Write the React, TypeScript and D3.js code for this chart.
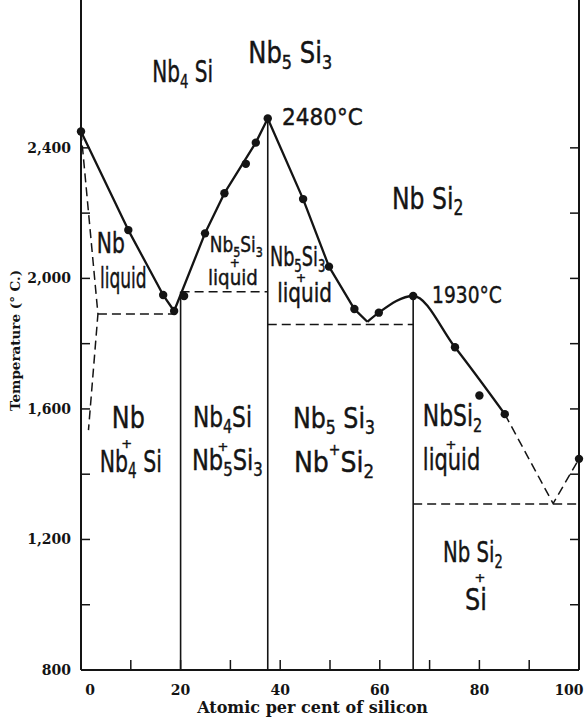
import React from "react";
import * as d3 from "d3";

const W = 586;
const H = 717;

// readings in (atomic % Si, °C)
const measured: [number, number][] = [
  [0, 2450], [9.5, 2148], [16.5, 1949], [18.7, 1900], [20.7, 1946],
  [24.9, 2138], [28.8, 2261], [33.1, 2351], [35.1, 2416], [37.5, 2490],
  [44.6, 2243], [49.8, 2036], [54.9, 1906], [59.8, 1895], [66.7, 1946],
  [75.1, 1789], [80.0, 1641], [85.1, 1584], [100, 1447],
];

const nbLiquidus: [number, number][] = [[0, 2450], [9.5, 2148], [16.5, 1949], [18.7, 1900]];
const nb5si3Left: [number, number][] = [[18.7, 1900], [24.9, 2138], [28.8, 2261], [35.1, 2416], [37.5, 2490]];
const nb5si3Right: [number, number][] = [[37.5, 2490], [44.6, 2243], [49.8, 2036], [54.9, 1906], [57.5, 1867]];
const nbsi2Liquidus: [number, number][] = [[57.5, 1867], [59.8, 1895], [66.7, 1946], [75.1, 1789], [85.1, 1584]];
const siLiquidus: [number, number][] = [[85.1, 1584], [94.8, 1310], [100, 1447]];
const nbSolidus: [number, number][] = [[0, 2450], [3.4, 1891], [1.5, 1535]];

// horizontal invariant lines: temperature, from %, to %
const invariants: [number, number, number][] = [
  [1891, 3.4, 18.7],
  [1959, 20, 37.5],
  [1859, 37.5, 66.7],
  [1309, 66.7, 100],
];

// compounds: composition, top temperature
const compounds: [number, number][] = [[20, 1959], [37.5, 2490], [66.7, 1946]];

const yLabels = [800, 1200, 1600, 2000, 2400];
const yTicks = [1000, 1200, 1400, 1600, 1800, 2000, 2200, 2400];
const xLabels = [0, 20, 40, 60, 80, 100];
const xTicks = [10, 20, 30, 40, 50, 60, 70, 80, 90];

const x = d3.scaleLinear().domain([0, 100]).range([81, 579]);
const y = d3.scaleLinear().domain([800, 2850]).range([670, 1]);

const line = d3.line<[number, number]>().x((d) => x(d[0])).y((d) => y(d[1]));
const smooth = d3
  .line<[number, number]>()
  .x((d) => x(d[0]))
  .y((d) => y(d[1]))
  .curve(d3.curveMonotoneX);

// region labels: segments ("_" sub, "^" sup), %, °C, font size, x squeeze
type Note = { segs: string[]; p: number; t: number; fs: number; sx: number };
const notes: Note[] = [
  { segs: ["Nb", "_4", " Si"], p: 20.4, t: 2602, fs: 30, sx: 0.67 },
  { segs: ["Nb", "_5", " Si", "_3"], p: 42.0, t: 2660, fs: 30, sx: 0.81 },
  { segs: ["2480°C"], p: 48.5, t: 2470, fs: 23.5, sx: 0.92 },
  { segs: ["Nb Si", "_2"], p: 69.6, t: 2213, fs: 31, sx: 0.76 },
  { segs: ["1930°C"], p: 77.5, t: 1925, fs: 23, sx: 0.81 },
  { segs: ["Nb"], p: 6.0, t: 2078, fs: 29, sx: 0.7 },
  { segs: ["liquid"], p: 8.5, t: 1971, fs: 28, sx: 0.61 },
  { segs: ["Nb", "_5", "Si", "_3"], p: 31.2, t: 2080, fs: 22, sx: 0.77 },
  { segs: ["+"], p: 30.9, t: 2036, fs: 12, sx: 1 },
  { segs: ["liquid"], p: 30.5, t: 1980, fs: 22, sx: 0.83 },
  { segs: ["Nb", "_5", "Si", "_3"], p: 43.5, t: 2037, fs: 26, sx: 0.68 },
  { segs: ["+"], p: 44.2, t: 1990, fs: 12, sx: 1 },
  { segs: ["liquid"], p: 44.9, t: 1928, fs: 26, sx: 0.77 },
  { segs: ["Nb"], p: 9.5, t: 1542, fs: 31, sx: 0.77 },
  { segs: ["+"], p: 9.2, t: 1481, fs: 13, sx: 1 },
  { segs: ["Nb", "_4", " Si"], p: 10.0, t: 1407, fs: 31, sx: 0.66 },
  { segs: ["Nb", "_4", "Si"], p: 28.4, t: 1545, fs: 29, sx: 0.75 },
  { segs: ["+"], p: 28.5, t: 1472, fs: 13, sx: 1 },
  { segs: ["Nb", "_5", "Si", "_3"], p: 29.4, t: 1413, fs: 29, sx: 0.78 },
  { segs: ["Nb", "_5", " Si", "_3"], p: 50.8, t: 1542, fs: 29, sx: 0.82 },
  { segs: ["Nb", "^+", "Si", "_2"], p: 50.8, t: 1407, fs: 29, sx: 0.87 },
  { segs: ["NbSi", "_2"], p: 74.6, t: 1547, fs: 30, sx: 0.73 },
  { segs: ["+"], p: 74.3, t: 1478, fs: 13, sx: 1 },
  { segs: ["liquid"], p: 74.4, t: 1413, fs: 30, sx: 0.7 },
  { segs: ["Nb Si", "_2"], p: 78.7, t: 1130, fs: 29, sx: 0.68 },
  { segs: ["+"], p: 80.1, t: 1071, fs: 13, sx: 1 },
  { segs: ["Si"], p: 79.3, t: 984, fs: 30, sx: 0.8 },
];

const ink = "#141414";
const dash = "9 5";

function Label({ n }: { n: Note }) {
  let cur = 0;
  const spans = n.segs.map((s, i) => {
    let target = 0;
    let size = n.fs;
    let txt = s;
    if (s.startsWith("_")) {
      target = n.fs * 0.2;
      size = n.fs * 0.66;
      txt = s.slice(1);
    } else if (s.startsWith("^")) {
      target = -n.fs * 0.6;
      size = n.fs * 0.55;
      txt = s.slice(1);
    }
    const dy = target - cur;
    cur = target;
    return (
      <tspan key={i} dy={dy} fontSize={size}>
        {txt}
      </tspan>
    );
  });
  return (
    <g transform={`translate(${x(n.p)},${y(n.t)}) scale(${n.sx},1)`}>
      <text
        textAnchor="middle"
        fontSize={n.fs}
        fill={ink}
        stroke={ink}
        strokeWidth={0.45}
      >
        {spans}
      </text>
    </g>
  );
}

export default function App() {
  const serif = "'DejaVu Serif', serif";
  return (
    <svg
      width={W}
      height={H}
      viewBox={`0 0 ${W} ${H}`}
      style={{ position: "absolute", left: 0, top: 0, background: "#fff" }}
      fontFamily="'DejaVu Sans', sans-serif"
    >
      <rect width={W} height={H} fill="#fff" />

      {/* frame */}
      <g stroke={ink} strokeWidth={2} fill="none">
        <line x1={x(0)} x2={x(0)} y1={0} y2={y(800)} />
        <line x1={x(100)} x2={x(100)} y1={0} y2={y(800)} />
        <line x1={x(0)} x2={x(100)} y1={y(800)} y2={y(800)} />
      </g>

      {/* ticks */}
      <g stroke={ink} strokeWidth={1.5}>
        {yTicks.map((t) => (
          <g key={t}>
            <line x1={x(0)} x2={x(0) + 9} y1={y(t)} y2={y(t)} />
            <line x1={x(100) - 9} x2={x(100)} y1={y(t)} y2={y(t)} />
          </g>
        ))}
        {xTicks.map((p) => (
          <line key={p} x1={x(p)} x2={x(p)} y1={y(800)} y2={y(800) - 10} />
        ))}
      </g>

      <g fontFamily={serif} fontWeight="bold" fontSize={14} fill={ink}>
        {yLabels.map((t) => (
          <text key={t} x={x(0) - 10} y={y(t) + 5} textAnchor="end">
            {d3.format(",")(t)}
          </text>
        ))}
        {xLabels.map((p) => (
          <text
            key={p}
            x={x(p) + (p === 0 ? 9 : p === 100 ? -10 : 0)}
            y={695}
            textAnchor="middle"
          >
            {p}
          </text>
        ))}
        <text x={x(46.5)} y={713} textAnchor="middle" fontSize={16}>
          Atomic per cent of silicon
        </text>
        <text
          transform={`translate(20,${y(1810)}) rotate(-90)`}
          textAnchor="middle"
          fontSize={13.5}
        >
          Temperature (° C.)
        </text>
      </g>

      {/* compound lines */}
      <g stroke={ink} strokeWidth={1.6}>
        {compounds.map(([p, t]) => (
          <line key={p} x1={x(p)} x2={x(p)} y1={y(t)} y2={y(800)} />
        ))}
      </g>

      {/* invariant lines and dashed boundaries */}
      <g stroke={ink} strokeWidth={1.5} fill="none" strokeDasharray={dash}>
        {invariants.map(([t, a, b]) => (
          <line key={t} x1={x(a)} x2={x(b)} y1={y(t)} y2={y(t)} />
        ))}
        <path d={line(nbSolidus) ?? ""} />
        <path d={line(siLiquidus) ?? ""} />
      </g>

      {/* liquidus */}
      <g stroke={ink} strokeWidth={2.3} fill="none" strokeLinejoin="round">
        <path d={line(nbLiquidus) ?? ""} />
        <path d={line(nb5si3Left) ?? ""} />
        <path d={line(nb5si3Right) ?? ""} />
        <path d={smooth(nbsi2Liquidus) ?? ""} />
      </g>

      <g fill={ink}>
        {measured.map(([p, t], i) => (
          <circle key={i} cx={x(p)} cy={y(t)} r={4.2} />
        ))}
      </g>

      {notes.map((n, i) => (
        <Label key={i} n={n} />
      ))}
    </svg>
  );
}
